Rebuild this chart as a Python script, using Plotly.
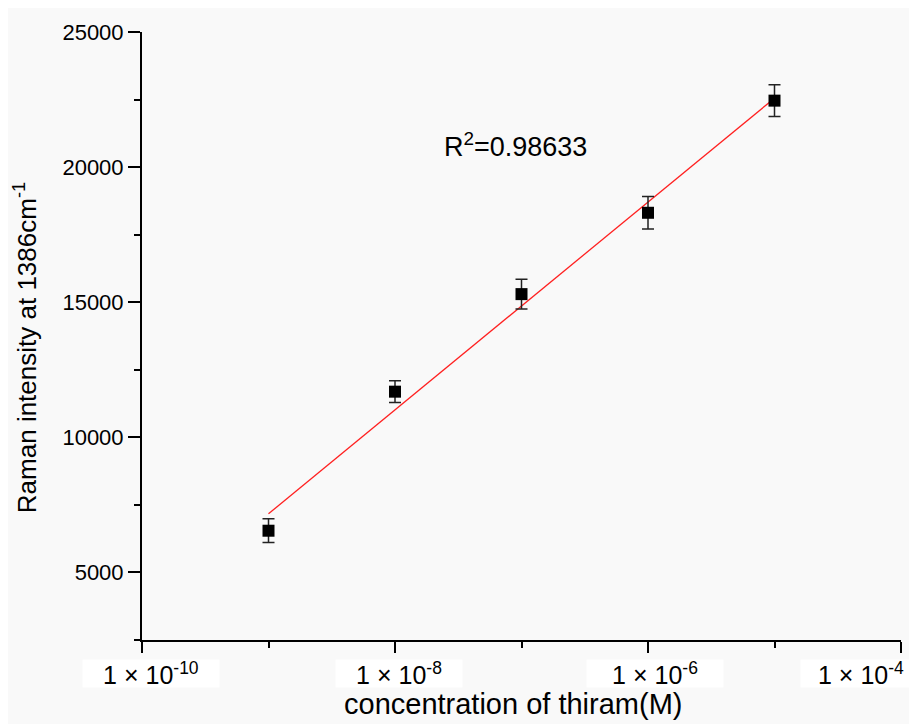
import numpy as np
import plotly.graph_objects as go

# ---- data ----
concentration = [1e-9, 1e-8, 1e-7, 1e-6, 1e-5]
intensity = [6544, 11690, 15300, 18310, 22460]
intensity_err = [440, 400, 550, 600, 590]
x_tick_vals = [1e-10, 1e-8, 1e-6, 1e-4]
x_tick_text = ["1 × 10<sup>-10</sup>", "1 × 10<sup>-8</sup>", "1 × 10<sup>-6</sup>", "1 × 10<sup>-4</sup>"]
x_minor_vals = [1e-9, 1e-7, 1e-5]
y_tick_vals = [5000, 10000, 15000, 20000, 25000]
r2_text = "R<sup>2</sup>=0.98633"

# styling of the pasted tick-label boxes
label_xshift = [9, 4, 7, -40]
label_width = [134, 124, 134, 118]

FONT = "Liberation Sans, Arial, sans-serif"
BG = "#f9f9f9"

# linear fit of intensity vs log10(concentration)
lx = np.log10(concentration)
slope, icpt = np.polyfit(lx, intensity, 1)
fit_x = [concentration[0], concentration[-1]]
fit_y = [slope * np.log10(v) + icpt for v in fit_x]

fig = go.Figure()
fig.add_trace(go.Scatter(
    x=fit_x, y=fit_y, mode="lines",
    line=dict(color="#ff2020", width=1.3),
    showlegend=False, hoverinfo="skip"))
fig.add_trace(go.Scatter(
    x=concentration, y=intensity, mode="markers",
    marker=dict(symbol="square", size=12, color="black"),
    error_y=dict(type="data", array=intensity_err, visible=True,
                 thickness=1.5, width=6, color="#222222"),
    showlegend=False))

annotations = []
for v, t, xs, w in zip(x_tick_vals, x_tick_text, label_xshift, label_width):
    annotations.append(dict(
        x=np.log10(v), xref="x", y=0, yref="paper",
        xanchor="center", yanchor="top", yshift=-19, xshift=xs,
        text=t, showarrow=False, bgcolor="white",
        width=w, height=25, align="center",
        font=dict(family=FONT, size=25, color="black")))

annotations.append(dict(
    x=0.4927, xref="paper", y=0.8137, yref="paper",
    xanchor="center", yanchor="middle",
    text=r2_text, showarrow=False,
    font=dict(family=FONT, size=27, color="black")))

annotations.append(dict(
    x=0.5, xref="paper", y=0, yref="paper", xshift=-9, yshift=-64,
    xanchor="center", yanchor="middle",
    text="concentration of thiram(M)", showarrow=False,
    font=dict(family=FONT, size=29, color="black")))

annotations.append(dict(
    x=0, xref="paper", y=0.48, yref="paper", xshift=-117,
    xanchor="center", yanchor="middle", textangle=-90,
    text="Raman intensity at 1386cm<sup>-1</sup>", showarrow=False,
    font=dict(family=FONT, size=26, color="black")))

fig.update_layout(
    width=909, height=716,
    margin=dict(l=134, r=16, t=20, b=84),
    paper_bgcolor=BG, plot_bgcolor=BG,
    font=dict(family=FONT, color="black"),
    annotations=annotations,
    xaxis=dict(
        type="log", range=[-10, -4],
        tickvals=x_tick_vals, showticklabels=False,
        ticks="outside", ticklen=11, tickwidth=2, tickcolor="black",
        showline=True, linewidth=2, linecolor="black",
        showgrid=False, zeroline=False,
        minor=dict(tickvals=x_minor_vals, ticks="outside", ticklen=6,
                   tickwidth=2, tickcolor="black", showgrid=False)),
    yaxis=dict(
        range=[2500, 25000],
        tickvals=y_tick_vals, tickformat="d",
        ticks="outside", ticklen=12, tickwidth=2, tickcolor="black",
        tickfont=dict(family=FONT, size=22, color="black"),
        showline=True, linewidth=2, linecolor="black",
        showgrid=False, zeroline=False,
        minor=dict(dtick=2500, tick0=0, ticks="outside", ticklen=6,
                   tickwidth=2, tickcolor="black", showgrid=False)),
)

fig.write_html("out.html")
